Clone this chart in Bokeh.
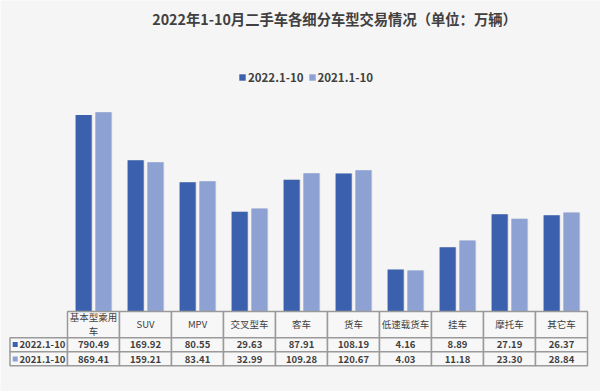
from bokeh.plotting import figure
from bokeh.models import ColumnDataSource, Range1d, LinearScale, Label, Legend, LegendItem
from bokeh.core.properties import value
from bokeh.embed import file_html
from bokeh.resources import INLINE

title_text = "2022年1-10月二手车各细分车型交易情况（单位：万辆）"
series_names = ["2022.1-10", "2021.1-10"]
categories = ["基本型乘用车", "SUV", "MPV", "交叉型车", "客车", "货车", "低速载货车", "挂车", "摩托车", "其它车"]
header_labels = ["基本型乘用\n车", "SUV", "MPV", "交叉型车", "客车", "货车", "低速载货车", "挂车", "摩托车", "其它车"]
v2022 = [790.49, 169.92, 80.55, 29.63, 87.91, 108.19, 4.16, 8.89, 27.19, 26.37]
v2021 = [869.41, 159.21, 83.41, 32.99, 109.28, 120.67, 4.03, 11.18, 23.30, 28.84]

FONT = "Noto Sans CJK SC"
BG = "#f5f5f5"
TXT = "#404040"
DARK = "#3b60ad"
LIGHT = "#8da2d3"
GRID = "#9a9a9a"

W, H = 600, 391
COL_W = 52.0          # width of one category column, px
LEFT = 67.0           # left edge of first category column, px
BASE_Y = 311.0        # baseline of bars, px from top
PXD = 67.8            # px per decade of the log scale

n = len(categories)
pos = [i + 0.5 for i in range(n)]
src = ColumnDataSource(dict(cat=categories, xa=[x - 0.19 for x in pos], xb=[x + 0.19 for x in pos],
                            xsa=[x - 0.175 for x in pos], xsb=[x + 0.205 for x in pos],
                            a=v2022, b=v2021, base=[1] * n))

p = figure(width=W, height=H,
           x_range=Range1d(-LEFT / COL_W, (W - LEFT) / COL_W),
           y_range=Range1d(10 ** (-(H - BASE_Y) / PXD), 10 ** (BASE_Y / PXD)),
           y_axis_type="log", x_axis_location=None, y_axis_location=None,
           output_backend="svg", toolbar_location=None,
           min_border_left=0, min_border_right=0, min_border_top=0, min_border_bottom=0,
           background_fill_color=BG, border_fill_color=BG, outline_line_color=None)
p.grid.visible = False
p.extra_y_ranges = {"table": Range1d(H, 0)}
p.extra_y_scales = {"table": LinearScale()}

# soft shadows
p.vbar(x="xsa", top="a", bottom="base", width=0.31, source=src, fill_color="#d4d4d4", line_color=None)
p.vbar(x="xsb", top="b", bottom="base", width=0.31, source=src, fill_color="#d4d4d4", line_color=None)
r1 = p.vbar(x="xa", top="a", bottom="base", width=0.31, source=src, fill_color=DARK, line_color=None)
r2 = p.vbar(x="xb", top="b", bottom="base", width=0.31, source=src, fill_color=LIGHT, line_color=None)

p.add_layout(Label(x=334, y=H - 18, x_units="screen", y_units="screen", text=title_text,
                   text_font=FONT, text_font_size="14.3px", text_font_style="bold",
                   text_color=TXT, text_align="center", text_baseline="middle"))

legend = Legend(items=[LegendItem(label=series_names[0], renderers=[r1]),
                       LegendItem(label=series_names[1], renderers=[r2])],
                location=(238, H - 85), orientation="horizontal",
                padding=0, margin=0, spacing=4, label_standoff=2,
                glyph_width=8, glyph_height=8, label_height=14,
                label_text_font=FONT, label_text_font_size="11.5px", label_text_font_style="bold",
                label_text_color=TXT, background_fill_alpha=0, border_line_color=None)
p.add_layout(legend, "center")

# ---- data table below the bars (y in px from the top, on the "table" range) ----
hdr = (9.5 - LEFT) / COL_W
rows_top = [BASE_Y, 337.3, 351.3]
rows_bot = [337.3, 351.3, 365.3]
p.quad(left=list(range(n)), right=[i + 1 for i in range(n)], top=[rows_top[0]] * n, bottom=[rows_bot[0]] * n,
       fill_color="#f7f7f7", line_color=GRID, line_width=1.5, y_range_name="table")
for r in (1, 2):
    p.quad(left=[hdr] + list(range(n)), right=[0] + [i + 1 for i in range(n)],
           top=[rows_top[r]] * (n + 1), bottom=[rows_bot[r]] * (n + 1),
           fill_color="#f7f7f7", line_color=GRID, line_width=1.5, y_range_name="table")

p.text(x=pos, y=[323.5] * n, text=header_labels, text_font=value(FONT), text_font_size="9.5px",
       text_color=TXT, text_align="center", text_baseline="middle", text_line_height=1.0,
       y_range_name="table")
p.text(x=pos, y=[344] * n, text=["%.2f" % v for v in v2022], text_font=value(FONT), text_font_size="9.5px",
       text_font_style="bold", text_color=TXT, text_align="center", text_baseline="middle",
       y_range_name="table")
p.text(x=pos, y=[358.5] * n, text=["%.2f" % v for v in v2021], text_font=value(FONT), text_font_size="9.5px",
       text_font_style="bold", text_color=TXT, text_align="center", text_baseline="middle",
       y_range_name="table")

mx = (14.7 - LEFT) / COL_W
p.scatter(x=[mx, mx], y=[344, 358.5], marker="square", size=5, fill_color=[DARK, LIGHT], line_color=None,
          y_range_name="table")
tx = (19 - LEFT) / COL_W
p.text(x=[tx, tx], y=[344, 358.5], text=series_names, text_font=value(FONT), text_font_size="9.5px",
       text_font_style="bold", text_color=TXT, text_align="left", text_baseline="middle",
       y_range_name="table")

open("out.html", "w").write(file_html(p, INLINE))
